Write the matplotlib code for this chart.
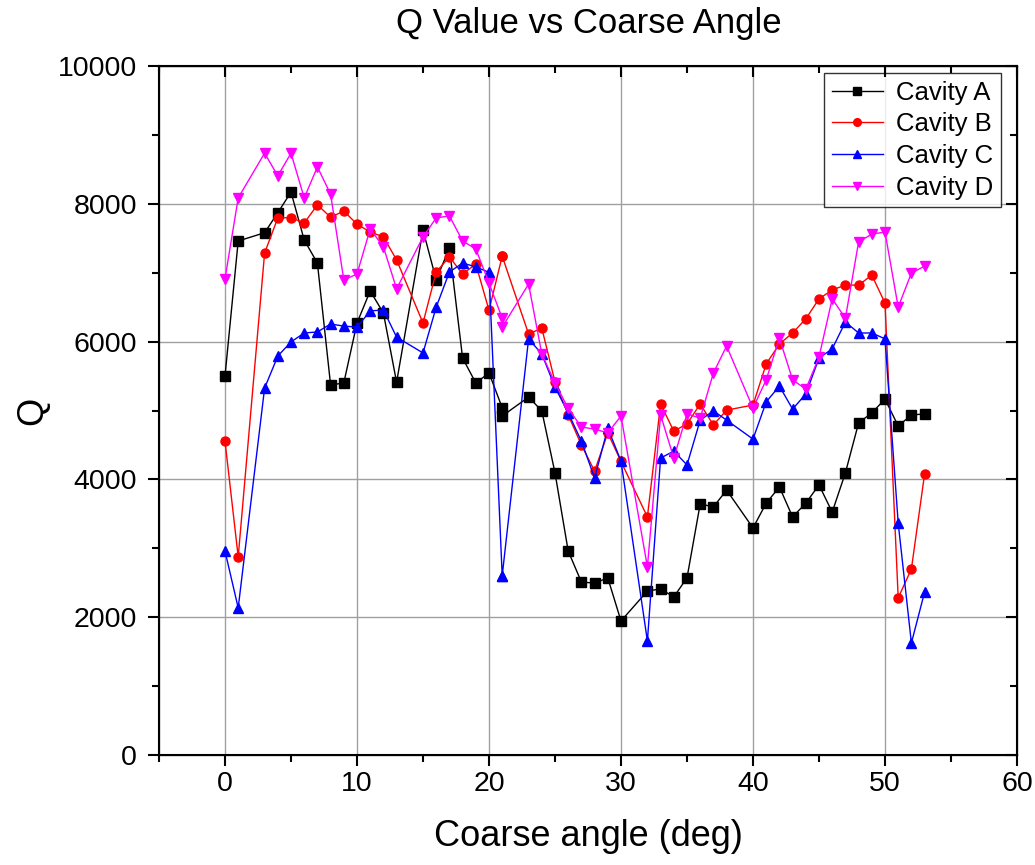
import matplotlib
matplotlib.use("Agg")
import matplotlib.pyplot as plt
from matplotlib.ticker import MultipleLocator

plt.rcParams['font.family'] = ['Liberation Sans', 'DejaVu Sans']

# coarse angle (deg); 21 appears twice in the measurement log
angle = [0, 1, 3, 4, 5, 6, 7, 8, 9, 10, 11, 12, 13, 15, 16, 17, 18, 19, 20,
         21, 21, 23, 24, 25, 26, 27, 28, 29, 30, 32, 33, 34, 35, 36, 37, 38,
         40, 41, 42, 43, 44, 45, 46, 47, 48, 49, 50, 51, 52, 53]

cavity_a = [5500, 7460, 7580, 7870, 8170, 7475, 7140, 5370, 5400, 6270, 6735,
            6415, 5410, 7620, 6895, 7360, 5760, 5400, 5545,
            5040, 4920, 5195, 4995, 4095, 2960, 2510, 2495, 2570, 1945,
            2380, 2410, 2295, 2570, 3645, 3600, 3845,
            3295, 3655, 3890, 3455, 3655, 3920, 3525, 4095, 4820, 4965, 5165,
            4775, 4935, 4950]

cavity_b = [4555, 2875, 7285, 7795, 7800, 7720, 7985, 7805, 7895, 7705, 7590,
            7520, 7185, 6270, 7010, 7230, 6980, 7125, 6455,
            7240, 7240, 6110, 6195, 5415, 4935, 4500, 4120, 4675, 4260,
            3455, 5095, 4700, 4805, 5095, 4790, 5005,
            5080, 5675, 5965, 6125, 6330, 6620, 6750, 6820, 6820, 6965, 6560,
            2280, 2700, 4080]

cavity_c = [2960, 2135, 5325, 5790, 5995, 6125, 6140, 6255, 6225, 6210, 6445,
            6460, 6065, 5835, 6500, 7010, 7140, 7085, 7005,
            2600, 2600, 6040, 5820, 5340, 4965, 4555, 4020, 4745, 4265,
            1655, 4310, 4410, 4210, 4860, 4995, 4860,
            4585, 5125, 5355, 5020, 5240, 5760, 5895, 6285, 6125, 6125, 6040,
            3365, 1625, 2365]

cavity_d = [6910, 8085, 8735, 8405, 8735, 8085, 8535, 8140, 6895, 6980, 7635,
            7375, 6765, 7520, 7795, 7825, 7460, 7345, 6850,
            6340, 6210, 6835, 5820, 5400, 5030, 4760, 4730, 4675, 4920,
            2730, 4935, 4310, 4950, 4890, 5545, 5935,
            5035, 5445, 6050, 5445, 5310, 5775, 6620, 6340, 7445, 7560, 7590,
            6500, 6995, 7095]

series = [("Cavity A", cavity_a, "black", "s"),
          ("Cavity B", cavity_b, "red", "o"),
          ("Cavity C", cavity_c, "blue", "^"),
          ("Cavity D", cavity_d, "magenta", "v")]

fig = plt.figure(figsize=(10.35, 8.65), dpi=100)
ax = fig.add_axes([159 / 1035, 110 / 865, 858 / 1035, 689 / 865])

for name, vals, col, mk in series:
    ax.plot(angle, vals, color=col, marker=mk, markersize=6.5, linewidth=1,
            label=name)

ax.set_xlim(-5, 60)
ax.set_ylim(0, 10000)
ax.xaxis.set_major_locator(MultipleLocator(10))
ax.xaxis.set_minor_locator(MultipleLocator(5))
ax.yaxis.set_major_locator(MultipleLocator(2000))
ax.yaxis.set_minor_locator(MultipleLocator(1000))
ax.grid(True, which='major', color='#a0a0a0', linewidth=1)
ax.set_axisbelow(True)

ax.tick_params(which='both', width=1.5, labelsize=20.5)
ax.tick_params(which='major', length=8)
ax.tick_params(which='minor', length=5)
ax.tick_params(axis='y', pad=8)
for spine in ax.spines.values():
    spine.set_linewidth(1.5)

# Origin-style: outward ticks on bottom/left, inward on top/right
ax2 = ax.twinx()
ax2.set_ylim(ax.get_ylim())
ax2.yaxis.set_major_locator(MultipleLocator(2000))
ax2.yaxis.set_minor_locator(MultipleLocator(1000))
ax2.tick_params(which='both', direction='in', width=1.5, labelright=False)
ax2.tick_params(which='major', length=8)
ax2.tick_params(which='minor', length=5)
ax3 = ax.twiny()
ax3.set_xlim(ax.get_xlim())
ax3.xaxis.set_major_locator(MultipleLocator(10))
ax3.xaxis.set_minor_locator(MultipleLocator(5))
ax3.tick_params(which='both', direction='in', width=1.5, labeltop=False)
ax3.tick_params(which='major', length=8)
ax3.tick_params(which='minor', length=5)

ax.set_xlabel("Coarse angle (deg)", fontsize=26, labelpad=16)
ax.set_ylabel("Q", fontsize=26, labelpad=5)
fig.text(589 / 1035, 1 - 23 / 865, "Q Value vs Coarse Angle",
         ha='center', va='center', fontsize=25)

leg = ax.legend(loc='upper right', fontsize=18.5, frameon=True, fancybox=False,
                edgecolor='black', handlelength=2.0, handletextpad=0.5,
                borderpad=0.3, labelspacing=0.3, borderaxespad=0,
                bbox_to_anchor=(0.981, 0.99))
leg.get_frame().set_linewidth(1)
for h in leg.legend_handles:
    h.set_markersize(5.5)

fig.savefig("out.png", dpi=100)
